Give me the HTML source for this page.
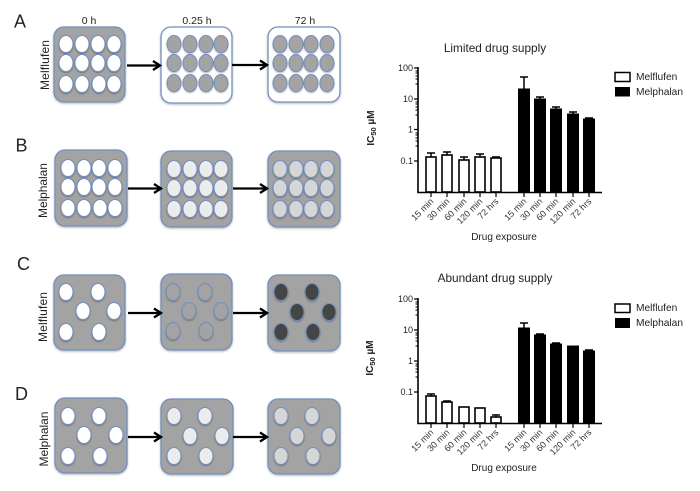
<!DOCTYPE html>
<html><head><meta charset="utf-8"><style>
html,body{margin:0;padding:0;background:#fff}
svg{display:block}
text{font-family:"Liberation Sans",sans-serif;fill:#222}
.p{fill:#a3a3a3;stroke:#6f8fc0;stroke-width:1.3;filter:url(#s)}
.q{fill:#fff;stroke:#6f8fc0;stroke-width:1.3;filter:url(#s)}
ellipse{rx:7px;ry:8.5px;stroke:#6f8fc0;stroke-width:1;filter:url(#s2)}
.w{fill:#fff}.g{fill:#a3a3a3}.l{fill:#ececec}.m{fill:#d6d6d6}.d{fill:#444}.n{fill:#a3a3a3}
.ar{stroke:#000;stroke-width:2.3;fill:none}
.b{fill:#fff;stroke:#000;stroke-width:1.6}.k{fill:#000;stroke:#000;stroke-width:1}
.e{stroke:#000;stroke-width:1.5;fill:none}
.t text{font-size:9px}
.x text{font-size:9px;text-anchor:end;fill:#333}
.h{font-size:10.5px}
.ti{font-size:11.8px}
.de{font-size:10px}
.le{font-size:10.2px}
.ic{font-size:10px;font-weight:bold}
.ic tspan.s{font-size:7.5px}
.ro{font-size:12px}
.big{font-size:18px}
</style></head><body>
<svg width="700" height="491" viewBox="0 0 700 491" xmlns="http://www.w3.org/2000/svg">
<defs>
<filter id="s" x="-10%" y="-10%" width="120%" height="120%"><feDropShadow dx="0" dy="1" stdDeviation="1" flood-color="#000" flood-opacity=".3"/></filter>
<filter id="s2" x="-30%" y="-30%" width="160%" height="160%"><feDropShadow dx="0" dy="1" stdDeviation=".7" flood-color="#000" flood-opacity=".3"/></filter>
</defs>

<!-- Panel letters -->
<text class="big" x="14" y="27.500">A</text>
<text class="big" x="15.500" y="151.500">B</text>
<text class="big" x="17" y="270">C</text>
<text class="big" x="15" y="400">D</text>
<text class="h" x="89" y="24" text-anchor="middle">0 h</text>
<text class="h" x="197" y="24" text-anchor="middle">0.25 h</text>
<text class="h" x="305" y="24" text-anchor="middle">72 h</text>
<text class="ro" transform="translate(49,65) rotate(-90)" text-anchor="middle" textLength="50">Melflufen</text>
<text class="ro" transform="translate(47,190.500) rotate(-90)" text-anchor="middle" textLength="55">Melphalan</text>
<text class="ro" transform="translate(47,317) rotate(-90)" text-anchor="middle" textLength="50">Melflufen</text>
<text class="ro" transform="translate(48,439) rotate(-90)" text-anchor="middle" textLength="55">Melphalan</text>

<!-- Plates -->
<rect class="p" x="54" y="27" width="71" height="75" rx="10"/>
<rect class="q" x="161" y="27" width="71" height="76" rx="10"/>
<rect class="q" x="268" y="27" width="72" height="75" rx="10"/>
<rect class="p" x="55" y="150" width="72" height="76" rx="10"/>
<rect class="p" x="161" y="151" width="71" height="76" rx="10"/>
<rect class="p" x="268" y="151" width="72" height="76" rx="10"/>
<rect class="p" x="54" y="275" width="71" height="75" rx="10"/>
<rect class="p" x="161" y="274" width="71" height="76" rx="10"/>
<rect class="p" x="268" y="275" width="72" height="76" rx="10"/>
<rect class="p" x="55" y="398" width="72" height="75" rx="10"/>
<rect class="p" x="161" y="399" width="72" height="75" rx="10"/>
<rect class="p" x="268" y="399" width="72" height="75" rx="10"/>

<!-- A1 -->
<g class="w">
<ellipse cx="66" cy="44"/><ellipse cx="82" cy="44"/><ellipse cx="98" cy="44"/><ellipse cx="114" cy="44"/>
<ellipse cx="66" cy="63"/><ellipse cx="82" cy="63"/><ellipse cx="98" cy="63"/><ellipse cx="114" cy="63"/>
<ellipse cx="66" cy="84"/><ellipse cx="82" cy="84"/><ellipse cx="99" cy="84"/><ellipse cx="114" cy="84"/>
</g>
<!-- A2 -->
<g class="g">
<ellipse cx="174" cy="44"/><ellipse cx="190" cy="44"/><ellipse cx="206" cy="44"/><ellipse cx="221" cy="44"/>
<ellipse cx="174" cy="63"/><ellipse cx="190" cy="63"/><ellipse cx="206" cy="63"/><ellipse cx="221" cy="63"/>
<ellipse cx="174" cy="83"/><ellipse cx="190" cy="83"/><ellipse cx="206" cy="83"/><ellipse cx="221" cy="83"/>
</g>
<!-- A3 -->
<g class="g">
<ellipse cx="280" cy="44"/><ellipse cx="296" cy="44"/><ellipse cx="311" cy="44"/><ellipse cx="327" cy="44"/>
<ellipse cx="280" cy="63"/><ellipse cx="296" cy="63"/><ellipse cx="311" cy="63"/><ellipse cx="327" cy="63"/>
<ellipse cx="280" cy="83"/><ellipse cx="296" cy="83"/><ellipse cx="311" cy="83"/><ellipse cx="327" cy="83"/>
</g>
<!-- B1 -->
<g class="w">
<ellipse cx="68" cy="168"/><ellipse cx="84" cy="168"/><ellipse cx="99" cy="168"/><ellipse cx="115" cy="168"/>
<ellipse cx="68" cy="187"/><ellipse cx="84" cy="187"/><ellipse cx="99" cy="187"/><ellipse cx="115" cy="187"/>
<ellipse cx="68" cy="208"/><ellipse cx="84" cy="208"/><ellipse cx="100" cy="208"/><ellipse cx="115" cy="208"/>
</g>
<!-- B2 -->
<g class="l">
<ellipse cx="174" cy="169"/><ellipse cx="190" cy="169"/><ellipse cx="206" cy="169"/><ellipse cx="221" cy="169"/>
<ellipse cx="174" cy="188"/><ellipse cx="190" cy="188"/><ellipse cx="206" cy="188"/><ellipse cx="221" cy="188"/>
<ellipse cx="174" cy="209"/><ellipse cx="190" cy="209"/><ellipse cx="206" cy="209"/><ellipse cx="221" cy="209"/>
</g>
<!-- B3 -->
<g class="m">
<ellipse cx="280" cy="169"/><ellipse cx="296" cy="169"/><ellipse cx="311" cy="169"/><ellipse cx="327" cy="169"/>
<ellipse cx="280" cy="188"/><ellipse cx="296" cy="188"/><ellipse cx="311" cy="188"/><ellipse cx="327" cy="188"/>
<ellipse cx="280" cy="209"/><ellipse cx="296" cy="209"/><ellipse cx="311" cy="209"/><ellipse cx="327" cy="209"/>
</g>
<!-- C1 -->
<g class="w">
<ellipse cx="66" cy="292"/><ellipse cx="98" cy="292"/><ellipse cx="83" cy="311"/><ellipse cx="114" cy="311"/><ellipse cx="66" cy="332"/><ellipse cx="99" cy="332"/>
</g>
<!-- C2 -->
<g class="n">
<ellipse cx="173" cy="292"/><ellipse cx="205" cy="292"/><ellipse cx="189" cy="311"/><ellipse cx="221" cy="311"/><ellipse cx="173" cy="331"/><ellipse cx="206" cy="331"/>
</g>
<!-- C3 -->
<g class="d">
<ellipse cx="281" cy="292"/><ellipse cx="312" cy="292"/><ellipse cx="297" cy="312"/><ellipse cx="329" cy="312"/><ellipse cx="281" cy="332"/><ellipse cx="313" cy="332"/>
</g>
<!-- D1 -->
<g class="w">
<ellipse cx="68" cy="416"/><ellipse cx="99" cy="416"/><ellipse cx="84" cy="435"/><ellipse cx="116" cy="435"/><ellipse cx="68" cy="456"/><ellipse cx="100" cy="456"/>
</g>
<!-- D2 -->
<g class="l">
<ellipse cx="174" cy="416"/><ellipse cx="205" cy="416"/><ellipse cx="190" cy="436"/><ellipse cx="222" cy="436"/><ellipse cx="174" cy="456"/><ellipse cx="206" cy="456"/>
</g>
<!-- D3 -->
<g class="m">
<ellipse cx="281" cy="416"/><ellipse cx="312" cy="416"/><ellipse cx="297" cy="436"/><ellipse cx="329" cy="436"/><ellipse cx="281" cy="456"/><ellipse cx="313" cy="456"/>
</g>

<!-- Arrows -->
<g class="ar">
<path d="M127 65.500H160M153 61L160 65.500L153 70"/>
<path d="M232 65H267M260 60.500L267 65L260 69.500"/>
<path d="M128 188.500H161M154 184L161 188.500L154 193"/>
<path d="M233 188.500H267M260 184L267 188.500L260 193"/>
<path d="M128 313H161M154 308.500L161 313L154 317.500"/>
<path d="M233 313H267M260 308.500L267 313L260 317.500"/>
<path d="M128 437H161M154 432.500L161 437L154 441.500"/>
<path d="M233 437H267M260 432.500L267 437L260 441.500"/>
</g>

<!-- Chart 1 -->
<text class="ti" x="495" y="52" text-anchor="middle">Limited drug supply</text>
<g class="b">
<rect x="426" y="157" width="10" height="35"/><rect x="442" y="155" width="10" height="37"/><rect x="459" y="160" width="10" height="32"/><rect x="475" y="157" width="10" height="35"/><rect x="491" y="158" width="10" height="34"/>
</g>
<path class="e" d="M431 157V153M427 153H435M447 155V152M443 152H451M464 160V157M460 157H468M480 157V154M476 154H484M496 158V157M492 157H500"/>
<g class="k">
<rect x="518.5" y="89" width="11" height="103"/><rect x="534.5" y="99" width="11" height="93"/><rect x="550.5" y="109" width="11" height="83"/><rect x="567.5" y="114" width="11" height="78"/><rect x="583.5" y="119" width="11" height="73"/>
</g>
<path class="e" d="M524 89V77M520 77H528M540 99V97M536 97H544M556 109V107M552 107H560M573 114V112M569 112H577M589 119V118M585 118H593"/>
<path d="M418 67V192.500H602" fill="none" stroke="#000" stroke-width="1.6"/>
<path d="M414 68H418M414 99H418M414 129.500H418M414 161H418" stroke="#000" stroke-width="1.3"/>
<path d="M415.500 71H418M415.500 73H418M415.500 76H418M415.500 79H418M415.500 84H418M415.500 102H418M415.500 104H418M415.500 107H418M415.500 110H418M415.500 115H418M415.500 133H418M415.500 135H418M415.500 138H418M415.500 141H418M415.500 146H418" stroke="#000" stroke-width="1"/>
<path d="M431 192V197M447 192V197M464 192V197M480 192V197M496 192V197M524 192V197M540 192V197M556 192V197M573 192V197M589 192V197" stroke="#000" stroke-width="1.2"/>
<g class="t">
<text x="413" y="71" text-anchor="end">100</text><text x="413" y="102" text-anchor="end">10</text><text x="413" y="132.500" text-anchor="end">1</text><text x="413" y="164" text-anchor="end">0.1</text>
</g>
<text class="ic" transform="translate(374,128) rotate(-90)" text-anchor="middle">IC<tspan class="s" dy="2">50</tspan><tspan dy="-2"> µM</tspan></text>
<g class="x">
<text transform="translate(434,202) rotate(-45)">15 min</text><text transform="translate(450,202) rotate(-45)">30 min</text><text transform="translate(467,202) rotate(-45)">60 min</text><text transform="translate(483,202) rotate(-45)">120 min</text><text transform="translate(499,202) rotate(-45)">72 hrs</text>
<text transform="translate(527,202) rotate(-45)">15 min</text><text transform="translate(543,202) rotate(-45)">30 min</text><text transform="translate(559,202) rotate(-45)">60 min</text><text transform="translate(576,202) rotate(-45)">120 min</text><text transform="translate(592,202) rotate(-45)">72 hrs</text>
</g>
<text class="de" x="504" y="240" text-anchor="middle">Drug exposure</text>
<rect x="615" y="72.500" width="15" height="9" fill="#fff" stroke="#000" stroke-width="1.5"/>
<rect x="615" y="87" width="15" height="9.500" fill="#000"/>
<text class="le" x="636" y="80">Melflufen</text>
<text class="le" x="636" y="95">Melphalan</text>

<!-- Chart 2 -->
<text class="ti" x="495" y="282" text-anchor="middle">Abundant drug supply</text>
<g class="b">
<rect x="426" y="396" width="10" height="27"/><rect x="442" y="402" width="10" height="21"/><rect x="459" y="407" width="10" height="16"/><rect x="475" y="408" width="10" height="15"/><rect x="491" y="417" width="10" height="6"/>
</g>
<path class="e" d="M431 396V394M427 394H435M447 402V401M443 401H451M496 417V415M492 415H500"/>
<g class="k">
<rect x="518.5" y="328" width="11" height="95"/><rect x="534.5" y="335" width="11" height="88"/><rect x="550.5" y="344" width="11" height="79"/><rect x="567.5" y="346" width="11" height="77"/><rect x="583.5" y="351" width="11" height="72"/>
</g>
<path class="e" d="M524 328V323M520 323H528M540 335V334M536 334H544M556 344V343M552 343H560M589 351V350M585 350H593"/>
<path d="M418 298V423.500H602" fill="none" stroke="#000" stroke-width="1.6"/>
<path d="M414 299H418M414 330H418M414 361H418M414 392H418" stroke="#000" stroke-width="1.3"/>
<path d="M415.500 302H418M415.500 304H418M415.500 307H418M415.500 310H418M415.500 315H418M415.500 333H418M415.500 335H418M415.500 338H418M415.500 341H418M415.500 346H418M415.500 364H418M415.500 366H418M415.500 369H418M415.500 372H418M415.500 377H418" stroke="#000" stroke-width="1"/>
<path d="M431 423V428M447 423V428M464 423V428M480 423V428M496 423V428M524 423V428M540 423V428M556 423V428M573 423V428M589 423V428" stroke="#000" stroke-width="1.2"/>
<g class="t">
<text x="413" y="302" text-anchor="end">100</text><text x="413" y="333" text-anchor="end">10</text><text x="413" y="364" text-anchor="end">1</text><text x="413" y="395" text-anchor="end">0.1</text>
</g>
<text class="ic" transform="translate(373,358) rotate(-90)" text-anchor="middle">IC<tspan class="s" dy="2">50</tspan><tspan dy="-2"> µM</tspan></text>
<g class="x">
<text transform="translate(434,433) rotate(-45)">15 min</text><text transform="translate(450,433) rotate(-45)">30 min</text><text transform="translate(467,433) rotate(-45)">60 min</text><text transform="translate(483,433) rotate(-45)">120 min</text><text transform="translate(499,433) rotate(-45)">72 hrs</text>
<text transform="translate(527,433) rotate(-45)">15 min</text><text transform="translate(543,433) rotate(-45)">30 min</text><text transform="translate(559,433) rotate(-45)">60 min</text><text transform="translate(576,433) rotate(-45)">120 min</text><text transform="translate(592,433) rotate(-45)">72 hrs</text>
</g>
<text class="de" x="504" y="471" text-anchor="middle">Drug exposure</text>
<rect x="615" y="304" width="15" height="8.500" fill="#fff" stroke="#000" stroke-width="1.5"/>
<rect x="615" y="318" width="15" height="10" fill="#000"/>
<text class="le" x="636" y="311">Melflufen</text>
<text class="le" x="636" y="326">Melphalan</text>
</svg>
</body></html>
